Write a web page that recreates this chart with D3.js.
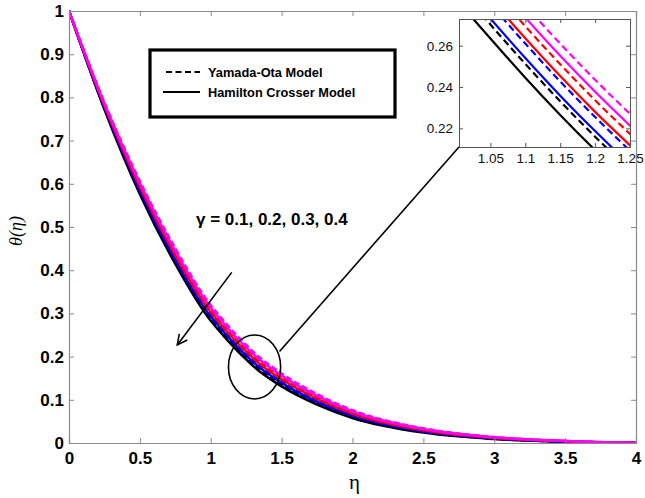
<!DOCTYPE html>
<html>
<head>
<meta charset="utf-8">
<script src="https://cdn.jsdelivr.net/npm/d3@7"></script>
<style>
  html, body { margin: 0; padding: 0; background: #fff; }
  svg { display: block; }
</style>
</head>
<body>
<svg id="chart" width="645" height="498"></svg>
<script>
// ---------------- data ----------------
const eta = [0, 0.25, 0.5, 0.75, 1.0, 1.05, 1.1, 1.15, 1.2, 1.25, 1.3, 1.5, 1.75, 2.0, 2.5, 3.0, 3.5, 4.0];

// Hamilton Crosser model (solid)
const hc01 = [1, 0.772, 0.576, 0.4145, 0.283, 0.2635, 0.2445, 0.2265, 0.2095, 0.1935, 0.178, 0.131, 0.089, 0.058, 0.024, 0.009, 0.003, 0];
const hc02 = [1, 0.7763, 0.5841, 0.4242, 0.2927, 0.2731, 0.254, 0.2358, 0.2187, 0.2025, 0.1869, 0.1391, 0.0955, 0.0629, 0.0267, 0.0104, 0.0035, 0];
const hc03 = [1, 0.7807, 0.5924, 0.4341, 0.3026, 0.2828, 0.2636, 0.2453, 0.228, 0.2118, 0.196, 0.1474, 0.1021, 0.0678, 0.0295, 0.0117, 0.0041, 0];
const hc04 = [1, 0.7853, 0.6009, 0.4444, 0.3129, 0.293, 0.2736, 0.2551, 0.2377, 0.2213, 0.2054, 0.1559, 0.1089, 0.0729, 0.0323, 0.0132, 0.0047, 0];
// Yamada-Ota model (dashed)
const yo01 = [1, 0.775, 0.5817, 0.4213, 0.2898, 0.2702, 0.2512, 0.2331, 0.216, 0.1999, 0.1843, 0.1367, 0.0936, 0.0614, 0.0259, 0.010, 0.0034, 0];
const yo02 = [1, 0.7795, 0.5901, 0.4314, 0.2999, 0.2802, 0.261, 0.2427, 0.2255, 0.2092, 0.1935, 0.1451, 0.1003, 0.0665, 0.0287, 0.0114, 0.0039, 0];
const yo03 = [1, 0.7834, 0.5973, 0.4401, 0.3086, 0.2887, 0.2694, 0.251, 0.2336, 0.2173, 0.2014, 0.1523, 0.106, 0.0708, 0.0311, 0.0126, 0.0044, 0];
const yo04 = [1, 0.788, 0.606, 0.4505, 0.319, 0.299, 0.2795, 0.261, 0.2435, 0.227, 0.211, 0.161, 0.113, 0.076, 0.034, 0.014, 0.005, 0];

const gammaValues = ["0.1", "0.2", "0.3", "0.4"];
const seriesColors = ["#000000", "#0000ff", "#ff0000", "#ff00ff"];

const xTicks = [0, 0.5, 1, 1.5, 2, 2.5, 3, 3.5, 4];
const yTicks = [0, 0.1, 0.2, 0.3, 0.4, 0.5, 0.6, 0.7, 0.8, 0.9, 1];
const insetXTicks = [1.05, 1.1, 1.15, 1.2, 1.25];
const insetYTicks = [0.22, 0.24, 0.26];
const legendLabels = ["Yamada-Ota Model", "Hamilton Crosser Model"];

const series = [
  { g: 0, dashed: false, v: hc01 }, { g: 0, dashed: true, v: yo01 },
  { g: 1, dashed: false, v: hc02 }, { g: 1, dashed: true, v: yo02 },
  { g: 2, dashed: false, v: hc03 }, { g: 2, dashed: true, v: yo03 },
  { g: 3, dashed: false, v: hc04 }, { g: 3, dashed: true, v: yo04 }
];

// ---------------- layout ----------------
const svg = d3.select("#chart");
const M = { left: 69, right: 636, top: 11, bottom: 443 };
const x = d3.scaleLinear().domain([0, 4]).range([M.left, M.right]);
const y = d3.scaleLinear().domain([0, 1]).range([M.bottom, M.top]);
const frameColor = "#8a8a8a";
const tickFont = "'Liberation Sans', Arial, sans-serif";

svg.append("rect").attr("width", 645).attr("height", 498).attr("fill", "#fff");

svg.append("clipPath").attr("id", "mainclip").append("rect")
  .attr("x", M.left).attr("y", M.top - 2).attr("width", M.right - M.left).attr("height", M.bottom - M.top + 2);

// curves
const line = d3.line().x(d => x(d[0])).y(d => y(d[1])).curve(d3.curveMonotoneX);
const gMain = svg.append("g").attr("clip-path", "url(#mainclip)");
series.forEach(s => {
  gMain.append("path")
    .attr("d", line(eta.map((e, i) => [e, s.v[i]])))
    .attr("fill", "none")
    .attr("stroke", seriesColors[s.g])
    .attr("stroke-width", 2.5)
    .attr("stroke-dasharray", s.dashed ? "6,3" : null);
});

// axes (MATLAB-style box, inward ticks)
const axB = d3.axisBottom(x).tickValues(xTicks).tickSize(-5).tickPadding(9).tickFormat(d3.format("~g"));
const axT = d3.axisTop(x).tickValues(xTicks).tickSize(-5).tickFormat("");
const axL = d3.axisLeft(y).tickValues(yTicks).tickSize(-5).tickPadding(5).tickFormat(d3.format("~g"));
const axR = d3.axisRight(y).tickValues(yTicks).tickSize(-5).tickFormat("");

function styleAxis(g) {
  g.select(".domain").attr("stroke", frameColor).attr("stroke-width", 1.2);
  g.selectAll(".tick line").attr("stroke", frameColor).attr("stroke-width", 1);
  g.selectAll("text").attr("fill", "#000").style("font-family", tickFont)
    .style("font-weight", "bold").style("font-size", "17px");
}
svg.append("g").attr("transform", `translate(0,${M.bottom})`).call(axB).call(styleAxis);
svg.append("g").attr("transform", `translate(0,${M.top})`).call(axT).call(styleAxis);
svg.append("g").attr("transform", `translate(${M.left},0)`).call(axL).call(styleAxis);
svg.append("g").attr("transform", `translate(${M.right},0)`).call(axR).call(styleAxis);

// axis titles
svg.append("text").attr("x", (M.left + M.right) / 2 + 2).attr("y", 489)
  .attr("text-anchor", "middle").style("font-family", "'Liberation Serif', serif")
  .style("font-size", "21px").text("η");
svg.append("text").attr("transform", `translate(22,${(M.top + M.bottom) / 2 + 4}) rotate(-90)`)
  .attr("text-anchor", "middle").style("font-family", "'Liberation Serif', serif")
  .style("font-style", "italic").style("font-size", "18px").text("θ(η)");

// legend
const lg = svg.append("g");
lg.append("rect").attr("x", 150).attr("y", 50).attr("width", 245).attr("height", 67)
  .attr("fill", "#fff").attr("stroke", "#000").attr("stroke-width", 3.2);
legendLabels.forEach((lab, i) => {
  const yy = 72 + i * 20;
  lg.append("line").attr("x1", i === 0 ? 166 : 163).attr("x2", 200).attr("y1", yy).attr("y2", yy)
    .attr("stroke", "#000").attr("stroke-width", 2)
    .attr("stroke-dasharray", i === 0 ? "6,3.5" : null);
  lg.append("text").attr("x", 208).attr("y", yy + 4.5)
    .style("font-family", tickFont).style("font-weight", "bold").style("font-size", "12.8px")
    .text(lab);
});

// gamma annotation
svg.append("text").attr("x", 196).attr("y", 225)
  .style("font-family", tickFont).style("font-weight", "bold").style("font-size", "17px")
  .text("γ = " + gammaValues.join(", "));

// arrow
svg.append("defs").append("marker").attr("id", "arr")
  .attr("viewBox", "0 0 12 12").attr("refX", 11).attr("refY", 6)
  .attr("markerWidth", 12).attr("markerHeight", 12).attr("markerUnits", "userSpaceOnUse")
  .attr("orient", "auto")
  .append("path").attr("d", "M1,1 L11,6 L1,11").attr("fill", "none").attr("stroke", "#000").attr("stroke-width", 1.6);
svg.append("line")
  .attr("x1", x(1.148)).attr("y1", y(0.395)).attr("x2", x(0.764)).attr("y2", y(0.227))
  .attr("stroke", "#000").attr("stroke-width", 1.6).attr("marker-end", "url(#arr)");

// ellipse + connector
svg.append("ellipse").attr("cx", x(1.309)).attr("cy", y(0.176))
  .attr("rx", x(1.309 + 0.184) - x(1.309)).attr("ry", y(0.176) - y(0.176 + 0.074))
  .attr("fill", "none").attr("stroke", "#000").attr("stroke-width", 1.6);

// inset
const I = { left: 459, right: 630, top: 19, bottom: 147 };
const xi = d3.scaleLinear().domain([1.005, 1.25]).range([I.left, I.right]);
const yi = d3.scaleLinear().domain([0.211, 0.2729]).range([I.bottom, I.top]);

svg.append("line").attr("x1", x(1.485)).attr("y1", y(0.212)).attr("x2", I.left).attr("y2", I.bottom)
  .attr("stroke", "#000").attr("stroke-width", 1.6);

svg.append("rect").attr("x", I.left).attr("y", I.top).attr("width", I.right - I.left).attr("height", I.bottom - I.top)
  .attr("fill", "#fff");
svg.append("clipPath").attr("id", "insclip").append("rect")
  .attr("x", I.left).attr("y", I.top).attr("width", I.right - I.left).attr("height", I.bottom - I.top);
const lineI = d3.line().x(d => xi(d[0])).y(d => yi(d[1])).curve(d3.curveMonotoneX);
const gIns = svg.append("g").attr("clip-path", "url(#insclip)");
series.forEach(s => {
  gIns.append("path")
    .attr("d", lineI(eta.map((e, i) => [e, s.v[i]])))
    .attr("fill", "none")
    .attr("stroke", seriesColors[s.g])
    .attr("stroke-width", 2.2)
    .attr("stroke-dasharray", s.dashed ? "7,4" : null);
});
function styleInset(g) {
  g.select(".domain").attr("stroke", "#555").attr("stroke-width", 1);
  g.selectAll(".tick line").attr("stroke", "#555");
  g.selectAll("text").attr("fill", "#111").style("font-family", tickFont).style("font-size", "13.5px");
}
svg.append("g").attr("transform", `translate(0,${I.bottom})`)
  .call(d3.axisBottom(xi).tickValues(insetXTicks).tickSize(-4).tickPadding(6).tickFormat(d3.format("~g"))).call(styleInset);
svg.append("g").attr("transform", `translate(0,${I.top})`)
  .call(d3.axisTop(xi).tickValues(insetXTicks).tickSize(-4).tickFormat("")).call(styleInset);
svg.append("g").attr("transform", `translate(${I.left},0)`)
  .call(d3.axisLeft(yi).tickValues(insetYTicks).tickSize(-4).tickPadding(6).tickFormat(d3.format("~g"))).call(styleInset);
svg.append("g").attr("transform", `translate(${I.right},0)`)
  .call(d3.axisRight(yi).tickValues(insetYTicks).tickSize(-4).tickFormat("")).call(styleInset);
</script>
</body>
</html>
